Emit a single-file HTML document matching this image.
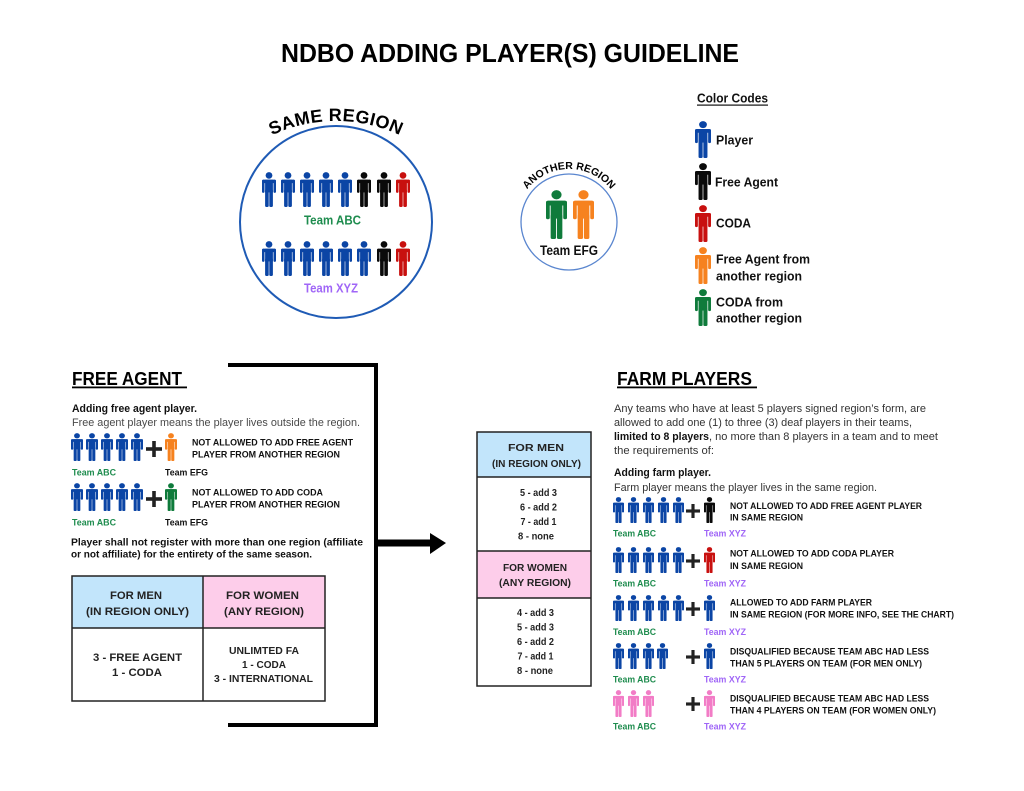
<!DOCTYPE html>
<html><head><meta charset="utf-8"><style>
html,body{margin:0;padding:0;background:#fff;}
svg{display:block;}
text{font-family:"Liberation Sans",Arial,sans-serif;}
.b{font-weight:bold;}
</style></head><body>
<svg width="1024" height="791" viewBox="0 0 1024 791" xmlns="http://www.w3.org/2000/svg">
<defs>
<symbol id="p" viewBox="0 0 14 36" preserveAspectRatio="none">
<circle cx="7" cy="3.5" r="3.4"/>
<rect x="0" y="7.8" width="14" height="3.6" rx="1.6"/>
<rect x="0" y="8" width="2.5" height="13.5" rx="1.2"/>
<rect x="11.5" y="8" width="2.5" height="13.5" rx="1.2"/>
<rect x="3.1" y="8" width="7.8" height="13"/>
<rect x="3.1" y="18" width="3.6" height="18" rx="1.1"/>
<rect x="7.3" y="18" width="3.6" height="18" rx="1.1"/>
</symbol>
<symbol id="plus" viewBox="0 0 16 16" preserveAspectRatio="none">
<rect x="0" y="6.2" width="16" height="3.6"/>
<rect x="6.2" y="0" width="3.6" height="16"/>
</symbol>
<path id="arc1" d="M 186,271 A 150,150 0 0 1 486,271"/>
<path id="arc2" d="M 516,222 A 53,53 0 0 1 622,222"/>
</defs>

<!-- Title -->
<text x="281" y="62" class="b" font-size="26" textLength="458" lengthAdjust="spacingAndGlyphs" fill="#000">NDBO ADDING PLAYER(S) GUIDELINE</text>

<!-- Same region -->
<circle cx="336" cy="222" r="96" fill="none" stroke="#1f5bb5" stroke-width="2"/>
<text class="b" font-size="18" letter-spacing="0.4" fill="#000"><textPath href="#arc1" startOffset="50%" text-anchor="middle">SAME REGION</textPath></text>

<g fill="#0b45a5">
<use href="#p" x="262" y="172" width="14" height="35"/>
<use href="#p" x="281" y="172" width="14" height="35"/>
<use href="#p" x="300" y="172" width="14" height="35"/>
<use href="#p" x="319" y="172" width="14" height="35"/>
<use href="#p" x="338" y="172" width="14" height="35"/>
<use href="#p" x="262" y="241" width="14" height="35"/>
<use href="#p" x="281" y="241" width="14" height="35"/>
<use href="#p" x="300" y="241" width="14" height="35"/>
<use href="#p" x="319" y="241" width="14" height="35"/>
<use href="#p" x="338" y="241" width="14" height="35"/>
<use href="#p" x="357" y="241" width="14" height="35"/>
</g>
<g fill="#0a0a0a">
<use href="#p" x="357" y="172" width="14" height="35"/>
<use href="#p" x="377" y="172" width="14" height="35"/>
<use href="#p" x="377" y="241" width="14" height="35"/>
</g>
<g fill="#c8100f">
<use href="#p" x="396" y="172" width="14" height="35"/>
<use href="#p" x="396" y="241" width="14" height="35"/>
</g>
<text x="304" y="224.5" class="b" font-size="13" textLength="57" lengthAdjust="spacingAndGlyphs" fill="#1e8c4e">Team ABC</text>
<text x="304" y="292.5" class="b" font-size="13" textLength="54" lengthAdjust="spacingAndGlyphs" fill="#a066f7">Team XYZ</text>

<!-- Another region -->
<circle cx="569" cy="222" r="48" fill="none" stroke="#5a86cf" stroke-width="1.3"/>
<text class="b" font-size="10.5" fill="#000"><textPath href="#arc2" startOffset="50%" text-anchor="middle">ANOTHER REGION</textPath></text>
<use href="#p" x="546" y="190" width="21" height="49" fill="#0f7b3b"/>
<use href="#p" x="573" y="190" width="21" height="49" fill="#f6821f"/>
<text x="540" y="255" class="b" font-size="14" textLength="58" lengthAdjust="spacingAndGlyphs" fill="#111">Team EFG</text>

<!-- Color codes -->
<text x="697" y="102.5" class="b" font-size="12.5" textLength="71" lengthAdjust="spacingAndGlyphs" fill="#111">Color Codes</text>
<rect x="697" y="104.5" width="71" height="1.2" fill="#111"/>
<use href="#p" x="695" y="121" width="16" height="37" fill="#0b45a5"/>
<use href="#p" x="695" y="163" width="16" height="37" fill="#0a0a0a"/>
<use href="#p" x="695" y="205" width="16" height="37" fill="#c8100f"/>
<use href="#p" x="695" y="247" width="16" height="37" fill="#f6821f"/>
<use href="#p" x="695" y="289" width="16" height="37" fill="#0f7b3b"/>
<g class="b" font-size="13" fill="#111">
<text x="716" y="144.5" textLength="37" lengthAdjust="spacingAndGlyphs">Player</text>
<text x="715" y="186.5" textLength="63" lengthAdjust="spacingAndGlyphs">Free Agent</text>
<text x="716" y="227.5" textLength="35" lengthAdjust="spacingAndGlyphs">CODA</text>
<text x="716" y="263.5" textLength="94" lengthAdjust="spacingAndGlyphs">Free Agent from</text>
<text x="716" y="280.5" textLength="86" lengthAdjust="spacingAndGlyphs">another region</text>
<text x="716" y="306.5" textLength="67" lengthAdjust="spacingAndGlyphs">CODA from</text>
<text x="716" y="322.5" textLength="86" lengthAdjust="spacingAndGlyphs">another region</text>
</g>

<!-- Bracket and arrow -->
<rect x="228" y="363" width="150" height="4" fill="#000"/>
<rect x="374" y="363" width="4" height="364" fill="#000"/>
<rect x="228" y="723" width="150" height="4" fill="#000"/>
<rect x="377" y="539.5" width="55" height="7" fill="#000"/>
<polygon points="430,533 446,543 430,554" fill="#000"/>

<!-- FREE AGENT -->
<text x="72" y="385" class="b" font-size="18.5" textLength="110" lengthAdjust="spacingAndGlyphs" fill="#000">FREE AGENT</text>
<rect x="72" y="386.5" width="115" height="1.8" fill="#000"/>
<text x="72" y="412" class="b" font-size="11" textLength="125" lengthAdjust="spacingAndGlyphs" fill="#111">Adding free agent player.</text>
<text x="72" y="426" font-size="11" textLength="288" lengthAdjust="spacingAndGlyphs" fill="#4a4a4a">Free agent player means the player lives outside the region.</text>

<g fill="#0b45a5">
<use href="#p" x="71" y="433" width="12" height="28"/>
<use href="#p" x="86" y="433" width="12" height="28"/>
<use href="#p" x="101" y="433" width="12" height="28"/>
<use href="#p" x="116" y="433" width="12" height="28"/>
<use href="#p" x="131" y="433" width="12" height="28"/>
<use href="#p" x="71" y="483" width="12" height="28"/>
<use href="#p" x="86" y="483" width="12" height="28"/>
<use href="#p" x="101" y="483" width="12" height="28"/>
<use href="#p" x="116" y="483" width="12" height="28"/>
<use href="#p" x="131" y="483" width="12" height="28"/>
</g>
<use href="#plus" x="146" y="441" width="16" height="16" fill="#222"/>
<use href="#plus" x="146" y="491" width="16" height="16" fill="#222"/>
<use href="#p" x="165" y="433" width="12" height="28" fill="#f6821f"/>
<use href="#p" x="165" y="483" width="12" height="28" fill="#0f7b3b"/>
<g class="b" font-size="9.5" fill="#111">
<text x="192" y="445.5" textLength="161" lengthAdjust="spacingAndGlyphs">NOT ALLOWED TO ADD FREE AGENT</text>
<text x="192" y="457.5" textLength="148" lengthAdjust="spacingAndGlyphs">PLAYER FROM ANOTHER REGION</text>
<text x="192" y="495.5" textLength="131" lengthAdjust="spacingAndGlyphs">NOT ALLOWED TO ADD CODA</text>
<text x="192" y="507.5" textLength="148" lengthAdjust="spacingAndGlyphs">PLAYER FROM ANOTHER REGION</text>
<text x="165" y="475.5" textLength="43" lengthAdjust="spacingAndGlyphs">Team EFG</text>
<text x="165" y="525.5" textLength="43" lengthAdjust="spacingAndGlyphs">Team EFG</text>
</g>
<g class="b" font-size="9.5" fill="#1e8c4e">
<text x="72" y="475.5" textLength="44" lengthAdjust="spacingAndGlyphs">Team ABC</text>
<text x="72" y="525.5" textLength="44" lengthAdjust="spacingAndGlyphs">Team ABC</text>
</g>
<g class="b" font-size="10.5" fill="#111">
<text x="71" y="545.5" textLength="292" lengthAdjust="spacingAndGlyphs">Player shall not register with more than one region (affiliate</text>
<text x="71" y="557.5" textLength="241" lengthAdjust="spacingAndGlyphs">or not affiliate) for the entirety of the same season.</text>
</g>

<!-- Left table -->
<rect x="72" y="576" width="131" height="52" fill="#c2e5fb"/>
<rect x="203" y="576" width="122" height="52" fill="#fdcdea"/>
<rect x="72" y="576" width="253" height="125" fill="none" stroke="#222" stroke-width="1.5"/>
<line x1="72" y1="628" x2="325" y2="628" stroke="#222" stroke-width="1.5"/>
<line x1="203" y1="576" x2="203" y2="701" stroke="#222" stroke-width="1.5"/>
<g class="b" font-size="11" fill="#222" text-anchor="middle">
<text x="136" y="599" textLength="52" lengthAdjust="spacingAndGlyphs">FOR MEN</text>
<text x="137.5" y="615" textLength="103" lengthAdjust="spacingAndGlyphs">(IN REGION ONLY)</text>
<text x="262.5" y="599" textLength="73" lengthAdjust="spacingAndGlyphs">FOR WOMEN</text>
<text x="264" y="615" textLength="80" lengthAdjust="spacingAndGlyphs">(ANY REGION)</text>
<text x="137.5" y="661" textLength="89" lengthAdjust="spacingAndGlyphs">3 - FREE AGENT</text>
<text x="137" y="676" textLength="50" lengthAdjust="spacingAndGlyphs">1 - CODA</text>
</g>
<g class="b" font-size="10" fill="#222" text-anchor="middle">
<text x="264" y="654" textLength="70" lengthAdjust="spacingAndGlyphs">UNLIMTED FA</text>
<text x="264" y="668" textLength="44" lengthAdjust="spacingAndGlyphs">1 - CODA</text>
<text x="263.5" y="682" textLength="99" lengthAdjust="spacingAndGlyphs">3 - INTERNATIONAL</text>
</g>

<!-- Middle table -->
<rect x="477" y="432" width="114" height="45" fill="#c2e5fb"/>
<rect x="477" y="551" width="114" height="47" fill="#fdcdea"/>
<rect x="477" y="432" width="114" height="254" fill="none" stroke="#222" stroke-width="1.5"/>
<line x1="477" y1="477" x2="591" y2="477" stroke="#222" stroke-width="1.5"/>
<line x1="477" y1="551" x2="591" y2="551" stroke="#222" stroke-width="1.5"/>
<line x1="477" y1="598" x2="591" y2="598" stroke="#222" stroke-width="1.5"/>
<g class="b" font-size="10" fill="#222" text-anchor="middle">
<text x="536" y="451" textLength="56" lengthAdjust="spacingAndGlyphs">FOR MEN</text>
<text x="536.5" y="467" textLength="89" lengthAdjust="spacingAndGlyphs">(IN REGION ONLY)</text>
<text x="538.5" y="496" textLength="37" lengthAdjust="spacingAndGlyphs">5 - add 3</text>
<text x="538.5" y="510.5" textLength="37" lengthAdjust="spacingAndGlyphs">6 - add 2</text>
<text x="538.5" y="525" textLength="36" lengthAdjust="spacingAndGlyphs">7 - add 1</text>
<text x="536" y="539.5" textLength="36" lengthAdjust="spacingAndGlyphs">8 - none</text>
<text x="535" y="571" textLength="64" lengthAdjust="spacingAndGlyphs">FOR WOMEN</text>
<text x="535" y="586" textLength="72" lengthAdjust="spacingAndGlyphs">(ANY REGION)</text>
<text x="535.5" y="616" textLength="37" lengthAdjust="spacingAndGlyphs">4 - add 3</text>
<text x="535.5" y="630.5" textLength="37" lengthAdjust="spacingAndGlyphs">5 - add 3</text>
<text x="535.5" y="645" textLength="37" lengthAdjust="spacingAndGlyphs">6 - add 2</text>
<text x="535.5" y="659.5" textLength="36" lengthAdjust="spacingAndGlyphs">7 - add 1</text>
<text x="535" y="674" textLength="36" lengthAdjust="spacingAndGlyphs">8 - none</text>
</g>

<!-- FARM PLAYERS -->
<text x="617" y="385" class="b" font-size="18.5" textLength="135" lengthAdjust="spacingAndGlyphs" fill="#000">FARM PLAYERS</text>
<rect x="617" y="386.5" width="140" height="1.8" fill="#000"/>
<g font-size="11" fill="#333">
<text x="614" y="412" textLength="312" lengthAdjust="spacingAndGlyphs">Any teams who have at least 5 players signed region’s form, are</text>
<text x="614" y="426" textLength="298" lengthAdjust="spacingAndGlyphs">allowed to add one (1) to three (3) deaf players in their teams,</text>
<text x="614" y="440" textLength="95" lengthAdjust="spacingAndGlyphs" class="b" fill="#111">limited to 8 players</text>
<text x="709" y="440" textLength="229" lengthAdjust="spacingAndGlyphs">, no more than 8 players in a team and to meet</text>
<text x="614" y="454" textLength="100" lengthAdjust="spacingAndGlyphs">the requirements of:</text>
</g>
<text x="614" y="476" class="b" font-size="11" textLength="97" lengthAdjust="spacingAndGlyphs" fill="#111">Adding farm player.</text>
<text x="614" y="491" font-size="11" textLength="263" lengthAdjust="spacingAndGlyphs" fill="#333">Farm player means the player lives in the same region.</text>

<g fill="#0b45a5">
<use href="#p" x="613" y="497" width="11" height="26"/>
<use href="#p" x="628" y="497" width="11" height="26"/>
<use href="#p" x="643" y="497" width="11" height="26"/>
<use href="#p" x="658" y="497" width="11" height="26"/>
<use href="#p" x="673" y="497" width="11" height="26"/>
<use href="#p" x="613" y="547" width="11" height="26"/>
<use href="#p" x="628" y="547" width="11" height="26"/>
<use href="#p" x="643" y="547" width="11" height="26"/>
<use href="#p" x="658" y="547" width="11" height="26"/>
<use href="#p" x="673" y="547" width="11" height="26"/>
<use href="#p" x="613" y="595" width="11" height="26"/>
<use href="#p" x="628" y="595" width="11" height="26"/>
<use href="#p" x="643" y="595" width="11" height="26"/>
<use href="#p" x="658" y="595" width="11" height="26"/>
<use href="#p" x="673" y="595" width="11" height="26"/>
<use href="#p" x="704" y="595" width="11" height="26"/>
<use href="#p" x="613" y="643" width="11" height="26"/>
<use href="#p" x="628" y="643" width="11" height="26"/>
<use href="#p" x="643" y="643" width="11" height="26"/>
<use href="#p" x="657" y="643" width="11" height="26"/>
<use href="#p" x="704" y="643" width="11" height="26"/>
</g>
<use href="#p" x="704" y="497" width="11" height="26" fill="#0a0a0a"/>
<use href="#p" x="704" y="547" width="11" height="26" fill="#c8100f"/>
<g fill="#f27cc6">
<use href="#p" x="613" y="690" width="11" height="27"/>
<use href="#p" x="628" y="690" width="11" height="27"/>
<use href="#p" x="643" y="690" width="11" height="27"/>
<use href="#p" x="704" y="690" width="11" height="27"/>
</g>
<g fill="#222">
<use href="#plus" x="686" y="504" width="14" height="14"/>
<use href="#plus" x="686" y="554" width="14" height="14"/>
<use href="#plus" x="686" y="602" width="14" height="14"/>
<use href="#plus" x="686" y="650" width="14" height="14"/>
<use href="#plus" x="686" y="697" width="14" height="14"/>
</g>
<g class="b" font-size="9.5" fill="#111">
<text x="730" y="509" textLength="192" lengthAdjust="spacingAndGlyphs">NOT ALLOWED TO ADD FREE AGENT PLAYER</text>
<text x="730" y="520.5" textLength="73" lengthAdjust="spacingAndGlyphs">IN SAME REGION</text>
<text x="730" y="556.5" textLength="164" lengthAdjust="spacingAndGlyphs">NOT ALLOWED TO ADD CODA PLAYER</text>
<text x="730" y="569" textLength="73" lengthAdjust="spacingAndGlyphs">IN SAME REGION</text>
<text x="730" y="605.5" textLength="142" lengthAdjust="spacingAndGlyphs">ALLOWED TO ADD FARM PLAYER</text>
<text x="730" y="617.5" textLength="224" lengthAdjust="spacingAndGlyphs">IN SAME REGION (FOR MORE INFO, SEE THE CHART)</text>
<text x="730" y="654.5" textLength="199" lengthAdjust="spacingAndGlyphs">DISQUALIFIED BECAUSE TEAM ABC HAD LESS</text>
<text x="730" y="666.5" textLength="192" lengthAdjust="spacingAndGlyphs">THAN 5 PLAYERS ON TEAM (FOR MEN ONLY)</text>
<text x="730" y="701.5" textLength="199" lengthAdjust="spacingAndGlyphs">DISQUALIFIED BECAUSE TEAM ABC HAD LESS</text>
<text x="730" y="713.5" textLength="206" lengthAdjust="spacingAndGlyphs">THAN 4 PLAYERS ON TEAM (FOR WOMEN ONLY)</text>
</g>
<g class="b" font-size="9.5" fill="#1e8c4e">
<text x="613" y="536.5" textLength="43" lengthAdjust="spacingAndGlyphs">Team ABC</text>
<text x="613" y="586.5" textLength="43" lengthAdjust="spacingAndGlyphs">Team ABC</text>
<text x="613" y="635" textLength="43" lengthAdjust="spacingAndGlyphs">Team ABC</text>
<text x="613" y="682.5" textLength="43" lengthAdjust="spacingAndGlyphs">Team ABC</text>
<text x="613" y="729.5" textLength="43" lengthAdjust="spacingAndGlyphs">Team ABC</text>
</g>
<g class="b" font-size="9.5" fill="#a066f7">
<text x="704" y="536.5" textLength="42" lengthAdjust="spacingAndGlyphs">Team XYZ</text>
<text x="704" y="586.5" textLength="42" lengthAdjust="spacingAndGlyphs">Team XYZ</text>
<text x="704" y="635" textLength="42" lengthAdjust="spacingAndGlyphs">Team XYZ</text>
<text x="704" y="682.5" textLength="42" lengthAdjust="spacingAndGlyphs">Team XYZ</text>
<text x="704" y="729.5" textLength="42" lengthAdjust="spacingAndGlyphs">Team XYZ</text>
</g>
</svg>
</body></html>
